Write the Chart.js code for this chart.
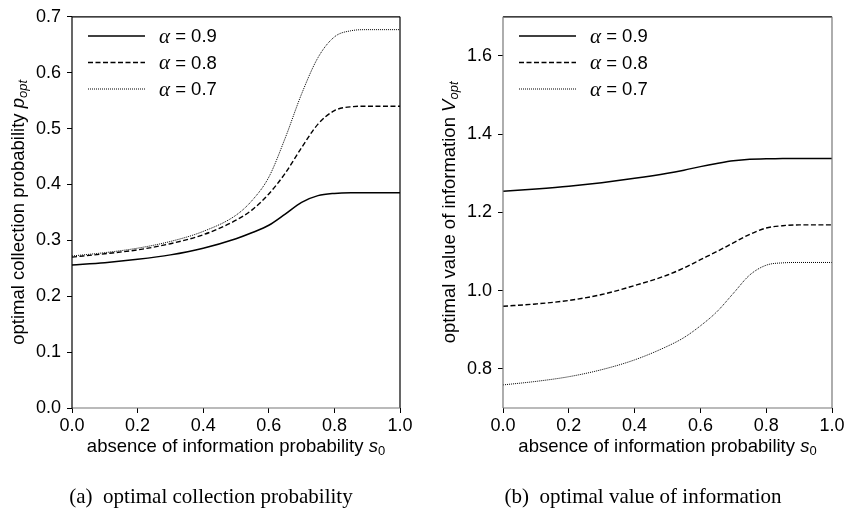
<!DOCTYPE html>
<html>
<head>
<meta charset="utf-8">
<script src="https://cdn.jsdelivr.net/npm/chart.js@4/dist/chart.umd.min.js"></script>
<style>
  html, body { margin: 0; padding: 0; background: #fff; }
  #wrap { position: relative; width: 847px; height: 510px; }
  .panel { position: absolute; top: 0; height: 510px; }
  #left { left: 0; width: 420px; }
  #right { left: 420px; width: 427px; }
</style>
</head>
<body>
<div id="wrap">
  <div class="panel" id="left"><canvas id="chartA"></canvas></div>
  <div class="panel" id="right"><canvas id="chartB"></canvas></div>
</div>
<script>
// absence of information probability s0
const s0 = [0, 0.1, 0.2, 0.3, 0.4, 0.5, 0.55, 0.6, 0.65, 0.7, 0.75, 0.8, 0.85, 0.9, 1.0];

// (a) optimal collection probability p_opt
const pOpt09 = [0.256, 0.260, 0.266, 0.274, 0.286, 0.303, 0.314, 0.327, 0.347, 0.368, 0.380, 0.384, 0.385, 0.385, 0.385];
const pOpt08 = [0.270, 0.276, 0.283, 0.294, 0.310, 0.336, 0.355, 0.383, 0.420, 0.466, 0.508, 0.532, 0.539, 0.540, 0.540];
const pOpt07 = [0.272, 0.278, 0.286, 0.298, 0.316, 0.345, 0.372, 0.413, 0.483, 0.562, 0.627, 0.664, 0.675, 0.677, 0.677];

// (b) optimal value of information V_opt
const vOpt09 = [1.254, 1.260, 1.267, 1.276, 1.287, 1.300, 1.308, 1.317, 1.325, 1.332, 1.336, 1.337, 1.338, 1.338, 1.338];
const vOpt08 = [0.960, 0.966, 0.975, 0.990, 1.013, 1.040, 1.058, 1.079, 1.100, 1.122, 1.144, 1.160, 1.166, 1.168, 1.168];
const vOpt07 = [0.759, 0.768, 0.780, 0.798, 0.823, 0.858, 0.880, 0.910, 0.946, 0.993, 1.040, 1.065, 1.071, 1.072, 1.072];

const seriesLabels = ['0.9', '0.8', '0.7'];
const xTicks = [0, 0.2, 0.4, 0.6, 0.8, 1.0];
const yTicksA = [0, 0.1, 0.2, 0.3, 0.4, 0.5, 0.6, 0.7];
const yTicksB = [0.8, 1.0, 1.2, 1.4, 1.6];

const SANS = '"Liberation Sans", Arial, sans-serif';
const SERIF = '"Liberation Serif", "Times New Roman", serif';
const TITLE_SIZE = 18.5;

const lineStyles = [
    { borderWidth: 1.5, borderDash: [] },
    { borderWidth: 1.4, borderDash: [5, 2.5] },
    { borderWidth: 1, borderDash: [1, 1] }
];

function toPoints(ys) {
    return ys.map((y, i) => ({ x: s0[i], y: y }));
}

// draws a run of text pieces (normal / italic / subscript) starting at x
function drawRich(ctx, parts, x, y) {
    parts.forEach(p => {
        const size = p.sub ? 13 : p.size;
        ctx.font = (p.italic ? 'italic ' : '') + size + 'px ' + (p.family || SANS);
        ctx.fillText(p.t, x, y + (p.sub ? 4.5 : 0));
        x += ctx.measureText(p.t).width;
    });
}
function richWidth(ctx, parts) {
    let w = 0;
    parts.forEach(p => {
        const size = p.sub ? 13 : p.size;
        ctx.font = (p.italic ? 'italic ' : '') + size + 'px ' + (p.family || SANS);
        w += ctx.measureText(p.t).width;
    });
    return w;
}

// frame, axis titles, in-plot legend and caption
const decorPlugin = {
    id: 'decor',
    afterDraw(chart, args, opts) {
        const ctx = chart.ctx;
        const a = chart.chartArea;
        ctx.save();
        // frame
        ctx.lineWidth = 1.2;
        const edges = [
            [a.left, a.top, a.right, a.top, opts.frame.top],
            [a.right, a.top, a.right, a.bottom, opts.frame.right],
            [a.left, a.bottom, a.right, a.bottom, opts.frame.bottom],
            [a.left, a.top, a.left, a.bottom, opts.frame.left]
        ];
        edges.forEach(e => {
            ctx.strokeStyle = e[4];
            ctx.beginPath();
            ctx.moveTo(e[0], e[1]);
            ctx.lineTo(e[2], e[3]);
            ctx.stroke();
        });

        ctx.fillStyle = '#000';
        ctx.textBaseline = 'middle';
        ctx.textAlign = 'left';

        // x axis title
        const xParts = [
            { t: 'absence of information probability ', size: TITLE_SIZE },
            { t: 's', size: TITLE_SIZE, italic: true },
            { t: '0', sub: true }
        ];
        const xw = richWidth(ctx, xParts);
        drawRich(ctx, xParts, (a.left + a.right) / 2 - xw / 2, 447);

        // y axis title (rotated)
        const yParts = [{ t: opts.yTitle, size: TITLE_SIZE }].concat(opts.ySym);
        const yw = richWidth(ctx, yParts);
        ctx.save();
        ctx.translate(opts.yTitleX, (a.top + a.bottom) / 2);
        ctx.rotate(-Math.PI / 2);
        drawRich(ctx, yParts, -yw / 2, 0);
        ctx.restore();

        // legend inside plot
        chart.data.datasets.forEach((ds, i) => {
            const y = 36 + i * 26.5;
            const x0 = a.left + 16;
            ctx.strokeStyle = '#000';
            ctx.lineWidth = ds.borderWidth;
            ctx.setLineDash(ds.borderDash);
            ctx.beginPath();
            ctx.moveTo(x0, y);
            ctx.lineTo(x0 + 57, y);
            ctx.stroke();
            ctx.setLineDash([]);
            drawRich(ctx, [
                { t: 'α', size: 21, italic: true, family: SERIF },
                { t: ' = ' + seriesLabels[i], size: 18.5 }
            ], x0 + 71, y + 1);
        });

        // caption
        ctx.font = '21px ' + SERIF;
        ctx.textAlign = 'center';
        ctx.fillText(opts.caption, opts.captionX, 497);
        ctx.restore();
    }
};

function makeChart(id, cfg) {
    return new Chart(document.getElementById(id), {
        type: 'line',
        data: {
            datasets: cfg.series.map((ys, i) => ({
                label: 'α = ' + seriesLabels[i],
                data: toPoints(ys),
                borderColor: '#000',
                borderWidth: lineStyles[i].borderWidth,
                borderDash: lineStyles[i].borderDash,
                pointRadius: 0,
                fill: false,
                cubicInterpolationMode: 'monotone'
            }))
        },
        options: {
            responsive: false,
            animation: false,
            layout: { padding: { top: 14, right: cfg.padRight, bottom: 0, left: 0 } },
            plugins: {
                legend: { display: false },
                tooltip: { enabled: false },
                decor: cfg.decor
            },
            scales: {
                x: {
                    type: 'linear',
                    min: 0,
                    max: 1,
                    afterBuildTicks: s => { s.ticks = xTicks.map(v => ({ value: v })); },
                    afterFit: s => { s.height = 102; },
                    border: { display: false },
                    grid: { drawOnChartArea: false, drawTicks: true, tickLength: 5, color: '#000', lineWidth: 1 },
                    ticks: {
                        color: '#000',
                        padding: 2,
                        maxRotation: 0,
                        font: { family: SANS, size: 18 },
                        callback: v => v.toFixed(1)
                    }
                },
                y: {
                    min: cfg.yMin,
                    max: cfg.yMax,
                    afterBuildTicks: s => { s.ticks = cfg.yTicks.map(v => ({ value: v })); },
                    afterFit: s => { s.width = cfg.yWidth; },
                    border: { display: false },
                    grid: { drawOnChartArea: false, drawTicks: true, tickLength: 5, color: '#000', lineWidth: 1 },
                    ticks: {
                        color: '#000',
                        padding: 6,
                        font: { family: SANS, size: 18 },
                        callback: v => v.toFixed(1)
                    }
                }
            }
        },
        plugins: [decorPlugin]
    });
}

const cA = document.getElementById('chartA');
cA.width = 420; cA.height = 510;
const cB = document.getElementById('chartB');
cB.width = 427; cB.height = 510;

makeChart('chartA', {
    series: [pOpt09, pOpt08, pOpt07],
    yMin: 0, yMax: 0.7, yTicks: yTicksA,
    yWidth: 72, padRight: 20,
    decor: {
        frame: { top: '#000', right: '#000', bottom: '#777', left: '#000' },
        yTitle: 'optimal collection probability ',
        ySym: [{ t: 'p', size: TITLE_SIZE, italic: true }, { t: 'opt', sub: true, italic: true }],
        yTitleX: 19,
        caption: '(a)  optimal collection probability',
        captionX: 211
    }
});

makeChart('chartB', {
    series: [vOpt09, vOpt08, vOpt07],
    yMin: 0.7, yMax: 1.7, yTicks: yTicksB,
    yWidth: 83, padRight: 15,
    decor: {
        frame: { top: '#000', right: '#777', bottom: '#777', left: '#777' },
        yTitle: 'optimal value of information ',
        ySym: [{ t: 'V', size: TITLE_SIZE, italic: true }, { t: 'opt', sub: true, italic: true }],
        yTitleX: 30,
        caption: '(b)  optimal value of information',
        captionX: 223
    }
});
</script>
</body>
</html>
